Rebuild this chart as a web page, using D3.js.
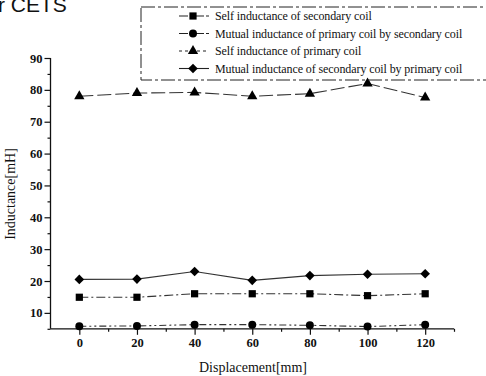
<!DOCTYPE html>
<html>
<head>
<meta charset="utf-8">
<script src="https://cdn.jsdelivr.net/npm/d3@7"></script>
<style>
  html, body { margin: 0; padding: 0; background: #fff; }
  svg { display: block; }
  text { font-family: "Liberation Serif", "DejaVu Serif", serif; fill: #111; }
</style>
</head>
<body>
<div id="chart"></div>
<script>
// displacement in mm
const displacement = [0, 20, 40, 60, 80, 100, 120];

const selfSecondary = [14.9, 14.9, 16.0, 16.0, 16.0, 15.4, 16.0];
const mutualPrimaryBySecondary = [5.8, 5.9, 6.3, 6.3, 6.1, 5.7, 6.3];
const selfPrimary = [78.0, 79.0, 79.2, 78.0, 78.8, 82.0, 77.6];
const mutualSecondaryByPrimary = [20.5, 20.6, 23.0, 20.2, 21.7, 22.1, 22.3];

const seriesNames = [
  'Self inductance of secondary coil',
  'Mutual inductance of primary coil by secondary coil',
  'Self inductance of primary coil',
  'Mutual inductance of secondary coil by primary coil',
];

const xTicks = [0, 20, 40, 60, 80, 100, 120];
const yTicks = [10, 20, 30, 40, 50, 60, 70, 80, 90];

const width = 486;
const height = 376;

// rotate: diamond drawn as a turned square, it is squatter than d3.symbolDiamond
const series = [
  { name: seriesNames[0], values: selfSecondary, symbol: d3.symbolSquare, size: 52, rotate: 0, dash: '9,3,2,3', legendDash: '9,2,3,2' },
  { name: seriesNames[1], values: mutualPrimaryBySecondary, symbol: d3.symbolCircle, size: 50, rotate: 0, dash: '7,3,2,3,2,3', legendDash: '9,2,3,2' },
  { name: seriesNames[2], values: selfPrimary, symbol: d3.symbolTriangle, size: 46, rotate: 0, dash: '14,4', legendDash: '3,3' },
  { name: seriesNames[3], values: mutualSecondaryByPrimary, symbol: d3.symbolSquare, size: 46, rotate: 45, dash: null, legendDash: null },
];

const x = d3.scaleLinear().domain([-10, 130]).range([50.5, 454]);
const y = d3.scaleLinear().domain([5, 90]).range([328.8, 58]);

const svg = d3.select('#chart').append('svg')
  .attr('width', width)
  .attr('height', height);

// clipped heading from the page above the figure
svg.append('text')
  .attr('x', -2)
  .attr('y', 12)
  .style('font-family', '"Liberation Sans", Arial, sans-serif')
  .style('font-size', '21px')
  .text('r CETS');

// axes
const xAxis = svg.append('g')
  .attr('transform', `translate(0,${y(5)})`)
  .call(d3.axisBottom(x).tickValues(xTicks).tickSize(6).tickPadding(3).tickFormat(d3.format('d')));
xAxis.append('g')
  .call(d3.axisBottom(x).tickValues([10, 30, 50, 70, 90, 110, 130]).tickSize(3).tickFormat(''));

const yAxis = svg.append('g')
  .attr('transform', `translate(${x(-10)},0)`)
  .call(d3.axisLeft(y).tickValues(yTicks).tickSize(6).tickPadding(2).tickFormat(d3.format('d')));
yAxis.append('g')
  .call(d3.axisLeft(y).tickValues([5, 15, 25, 35, 45, 55, 65, 75, 85]).tickSize(3).tickFormat(''));

svg.selectAll('.domain').attr('stroke', '#111').attr('stroke-width', 1.3);
svg.selectAll('.tick line').attr('stroke', '#111').attr('stroke-width', 1.2);
svg.selectAll('.tick text')
  .style('font-size', '12.5px')
  .style('font-weight', 'bold')
  .attr('fill', '#111');
// d3 axis draws the path with outer ticks; drop them
xAxis.select('.domain').attr('d', `M${x(-10)},0H${x(130)}`);
yAxis.select('.domain').attr('d', `M0,${y(90)}V${y(5)}`);
xAxis.selectAll('g g .domain').remove();
yAxis.selectAll('g g .domain').remove();

// axis titles
svg.append('text')
  .attr('x', 253)
  .attr('y', 372)
  .attr('text-anchor', 'middle')
  .style('font-size', '14px')
  .text('Displacement[mm]');

svg.append('text')
  .attr('transform', 'translate(15,194) rotate(-90)')
  .attr('text-anchor', 'middle')
  .style('font-size', '14px')
  .text('Inductance[mH]');

// series
const line = d3.line()
  .x((d, i) => x(displacement[i]))
  .y(d => y(d));

const plot = svg.append('g');
series.forEach(s => {
  plot.append('path')
    .datum(s.values)
    .attr('fill', 'none')
    .attr('stroke', '#333')
    .attr('stroke-width', 1.1)
    .attr('stroke-dasharray', s.dash)
    .attr('d', line);

  plot.selectAll(null)
    .data(s.values)
    .enter().append('path')
    .attr('transform', (d, i) => `translate(${x(displacement[i])},${y(d)}) rotate(${s.rotate})`)
    .attr('d', d3.symbol().type(s.symbol).size(s.size))
    .attr('fill', '#000');
});

// legend
const legend = svg.append('g');
legend.append('rect')
  .attr('x', 141)
  .attr('y', 7)
  .attr('width', 360)
  .attr('height', 73)
  .attr('fill', 'none')
  .attr('stroke', '#222')
  .attr('stroke-width', 1)
  .attr('stroke-dasharray', '14,3,3,3');

const rowY = d3.scalePoint().domain(seriesNames).range([16, 68.5]);
series.forEach(s => {
  const g = legend.append('g').attr('transform', `translate(0,${rowY(s.name)})`);
  g.append('line')
    .attr('x1', 179).attr('x2', 209)
    .attr('stroke', '#222')
    .attr('stroke-width', 1.1)
    .attr('stroke-dasharray', s.legendDash);
  g.append('path')
    .attr('transform', `translate(193,0) rotate(${s.rotate})`)
    .attr('d', d3.symbol().type(s.symbol).size(s.size))
    .attr('fill', '#000');
  g.append('text')
    .attr('x', 215)
    .attr('y', 4)
    .style('font-size', '12px')
    .style('letter-spacing', '-0.1px')
    .text(s.name);
});
</script>
</body>
</html>
